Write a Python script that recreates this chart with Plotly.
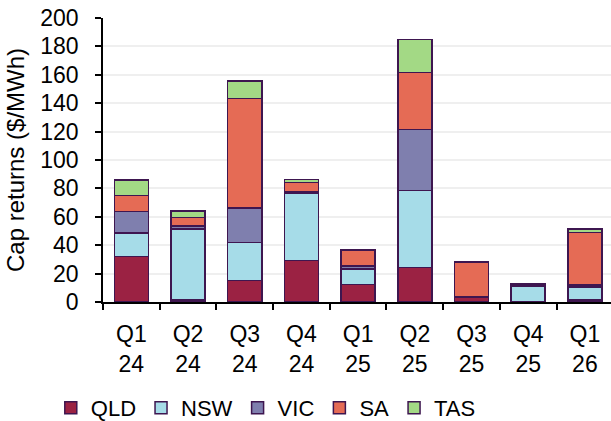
import plotly.graph_objects as go

categories = ["Q1<br>24", "Q2<br>24", "Q3<br>24", "Q4<br>24", "Q1<br>25",
              "Q2<br>25", "Q3<br>25", "Q4<br>25", "Q1<br>26"]
qld = [32.0, 1.5, 15.0, 29.3, 12.2, 24.4, 3.0, 0.4, 1.5]
nsw = [16.5, 50.0, 27.0, 47.5, 11.0, 54.2, 0.4, 10.6, 9.0]
vic = [15.2, 2.0, 24.2, 0.5, 2.0, 42.8, 0.4, 1.0, 1.5]
sa = [11.3, 6.0, 77.0, 7.0, 11.3, 40.3, 24.0, 0.8, 37.0]
tas = [11.0, 4.5, 12.4, 2.0, 0.3, 23.0, 0.5, 0.3, 2.4]

series = [("QLD", qld, "#9B2243"), ("NSW", nsw, "#A6DCE8"), ("VIC", vic, "#7F7FAE"),
          ("SA", sa, "#E56B55"), ("TAS", tas, "#A3D985")]

FONT = "Liberation Sans, Arial, sans-serif"
fig = go.Figure()
for name, vals, col in series:
    fig.add_trace(go.Bar(x=categories, y=vals, name=name,
                         marker=dict(color=col, line=dict(color="#3E1650", width=1.5))))

fig.update_layout(
    barmode="stack", bargap=0.4,
    width=611, height=421,
    margin=dict(l=103, r=0, t=18, b=119, autoexpand=False),
    paper_bgcolor="white", plot_bgcolor="white",
    font=dict(family=FONT, size=23, color="black"),
    legend=dict(orientation="h", x=0.435, xanchor="center", xref="container",
                y=0.031, yanchor="middle", yref="container",
                font=dict(size=22), traceorder="normal", itemwidth=30,
                itemclick=False, bgcolor="rgba(0,0,0,0)"),
    showlegend=True,
)
fig.update_xaxes(range=[-0.5, 8.46], showline=True, linecolor="black", linewidth=1.5,
                 ticks="outside", tickson="boundaries", ticklen=6, tickcolor="black",
                 tickwidth=1.5, tickfont=dict(size=23), showgrid=False,
                 ticklabelstandoff=11)
fig.update_yaxes(range=[0, 200], dtick=20, showline=True, linecolor="black", linewidth=1.5,
                 ticks="outside", ticklen=6, tickcolor="black", tickwidth=1.5,
                 gridcolor="#EFEFEF", gridwidth=1.5, tickfont=dict(size=23),
                 ticklabelstandoff=12,
                 title=dict(text="Cap returns ($/MWh)", font=dict(size=24), standoff=9),
                 zeroline=False)

fig.write_html("out.html", config={"displayModeBar": False},
               post_script="document.body.style.margin='0';document.body.style.overflow='hidden';")
